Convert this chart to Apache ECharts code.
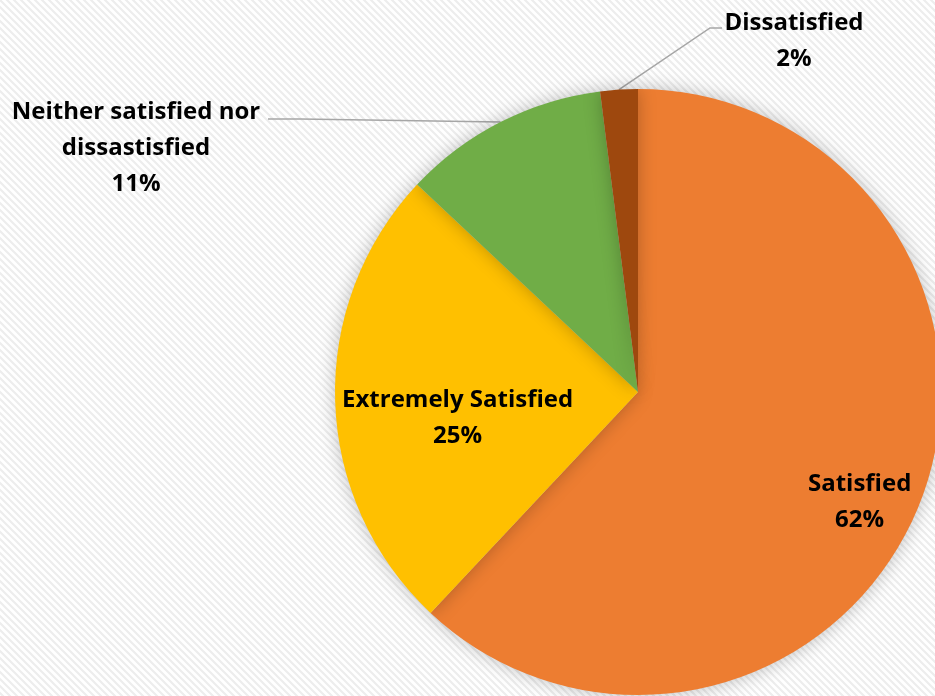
<!DOCTYPE html>
<html lang="en">
<head>
    <meta charset="UTF-8">
    <title>Satisfaction</title>
    <style type="text/css">
        * { margin: 0; padding: 0; }
        html, body { width: 100%; height: 100%; background: #fff; }
        #chart-panel { width: 935px; height: 696px; }
    </style>
</head>
<body>
<div id="chart-panel"></div>
<script src="https://cdn.jsdelivr.net/npm/echarts@6/dist/echarts.min.js"></script>
<script>
    // data
    let categories = ["Satisfied", "Extremely Satisfied", "Neither satisfied nor\ndissastisfied", "Dissatisfied"];
    let values = [62, 25, 11, 2];
    let colors = ["#ED7D31", "#FFC000", "#70AD47", "#9E480E"];

    // faint diagonal hatch background
    const makeHatch = () => {
        let c = document.createElement('canvas');
        c.width = 7;
        c.height = 7;
        let ctx = c.getContext('2d');
        ctx.fillStyle = '#ffffff';
        ctx.fillRect(0, 0, 7, 7);
        ctx.strokeStyle = '#ededed';
        ctx.lineWidth = 2.2;
        ctx.beginPath();
        ctx.moveTo(-1, -1); ctx.lineTo(8, 8);
        ctx.moveTo(-8, -1); ctx.lineTo(1, 8);
        ctx.moveTo(6, -1); ctx.lineTo(15, 8);
        ctx.stroke();
        return c;
    };

    // label nudges (Excel "best fit" placements)
    let labelShift = [
        {dx: 78, dy: 53},
        {dx: -26, dy: 21},
        null,
        null
    ];

    var myChart = echarts.init(document.getElementById('chart-panel'));

    let seriesData = categories.map((name, i) => {
        let item = {
            name: name,
            value: values[i],
            itemStyle: {color: colors[i]}
        };
        if (i >= 2) {
            item.label = {position: 'outside'};
        }
        return item;
    });

    var option = {
        backgroundColor: {image: makeHatch(), repeat: 'repeat'},
        animation: false,
        series: [{
            type: 'pie',
            center: [638, 392],
            radius: [0, 303],
            startAngle: 90,
            clockwise: true,
            avoidLabelOverlap: false,
            data: seriesData,
            itemStyle: {
                borderWidth: 0,
                shadowBlur: 18,
                shadowColor: 'rgba(0, 0, 0, 0.25)'
            },
            label: {
                position: 'inside',
                formatter: '{b}\n{c}%',
                color: '#000',
                fontFamily: 'Open Sans',
                fontWeight: 'bold',
                fontSize: 24,
                lineHeight: 36,
                align: 'center'
            },
            labelLine: {
                show: true,
                length: 20,
                length2: 12,
                lineStyle: {color: '#a6a6a6', width: 1.5}
            },
            labelLayout: function (p) {
                let s = labelShift[p.dataIndex];
                if (s) return {dx: s.dx, dy: s.dy};
                let anchor = p.labelLinePoints ? p.labelLinePoints[0] : null;
                if (p.dataIndex === 2) {
                    return {
                        x: 136, y: 148, align: 'center', verticalAlign: 'middle',
                        labelLinePoints: anchor ? [anchor, [300, 119], [268, 119]] : undefined
                    };
                }
                if (p.dataIndex === 3) {
                    return {
                        x: 794, y: 41, align: 'center', verticalAlign: 'middle',
                        labelLinePoints: anchor ? [anchor, [710, 28], [722, 28]] : undefined
                    };
                }
            }
        }]
    };
    myChart.setOption(option);
</script>
</body>
</html>
